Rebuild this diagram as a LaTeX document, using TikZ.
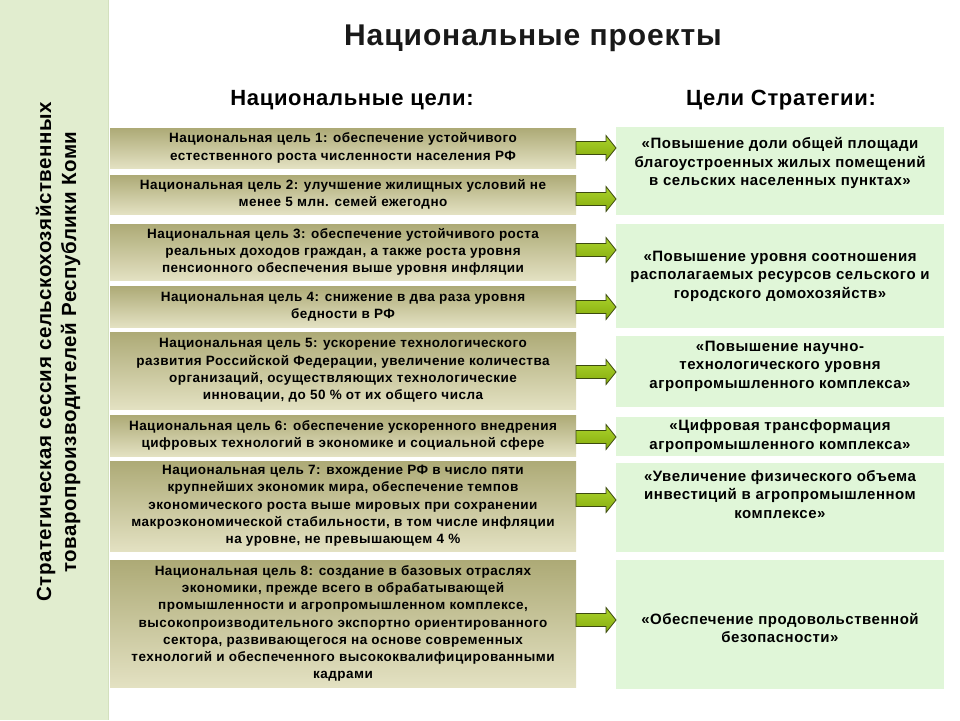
\documentclass[tikz,border=0pt]{standalone}
\usepackage{fontspec}
\setmainfont{Liberation Sans}
\definecolor{sidebar}{HTML}{E1EDCF}
\definecolor{sideedge}{HTML}{D3E0BE}
\definecolor{goalTop}{HTML}{ADAA76}
\definecolor{goalBot}{HTML}{E3E1C2}
\definecolor{stratFill}{HTML}{E0F6D8}
\definecolor{arrTop}{HTML}{AAD22C}
\definecolor{arrBot}{HTML}{86AC0C}
\definecolor{arrEdge}{HTML}{3C4A10}
\begin{document}
\begin{tikzpicture}[x=1pt,y=-1pt,
  goal/.style={shade, top color=goalTop, bottom color=goalBot, minimum width=466pt,
    align=center, inner sep=0pt, font=\bfseries\fontsize{13.5}{17.3}\selectfont\addfontfeature{LetterSpace=3.5}},
  strat/.style={fill=stratFill, minimum width=328pt, inner sep=0pt},
  strattext/.style={align=center, inner sep=0pt, font=\bfseries\fontsize{15}{18.5}\selectfont\addfontfeature{LetterSpace=3.5}},
  greenarrow/.style={top color=arrTop, bottom color=arrBot, draw=arrEdge, line width=0.8pt, line join=miter},
  header/.style={font=\bfseries\fontsize{22}{24}\selectfont\addfontfeature{LetterSpace=3}}
]
\useasboundingbox (0,0) rectangle (960,720);
\fill[white] (0,0) rectangle (960,720);
\fill[sidebar] (0,0) rectangle (109,720);
\draw[sideedge, line width=1pt] (108.5,0) -- (108.5,720);

\node[align=center, rotate=90, inner sep=0pt, font=\bfseries\fontsize{20.5}{25}\selectfont\addfontfeature{LetterSpace=2.5}] (side) at (58,352)
  {Стратегическая сессия сельскохозяйственных\\товаропроизводителей Республики Коми};

\node[font=\bfseries\fontsize{30}{32}\selectfont\addfontfeature{LetterSpace=3}, text=black!90] (title) at (533,38) {Национальные проекты};
\node[header] (h1) at (352,100) {Национальные цели:};
\node[header] (h2) at (781,100) {Цели Стратегии:};

% national goals
\node[goal, minimum height=40pt] (g1) at (343,148) {Национальная цель 1: обеспечение устойчивого\\естественного роста численности населения РФ};
\node[goal, minimum height=39pt] (g2) at (343,194.5) {Национальная цель 2: улучшение жилищных условий не\\менее 5 млн. семей ежегодно};
\node[goal, minimum height=56pt] (g3) at (343,252) {Национальная цель 3: обеспечение устойчивого роста\\реальных доходов граждан, а также роста уровня\\пенсионного обеспечения выше уровня инфляции};
\node[goal, minimum height=41pt] (g4) at (343,306.5) {Национальная цель 4: снижение в два раза уровня\\бедности в РФ};
\node[goal, minimum height=77pt] (g5) at (343,370.5) {Национальная цель 5: ускорение технологического\\развития Российской Федерации, увеличение количества\\организаций, осуществляющих технологические\\инновации, до 50 \% от их общего числа};
\node[goal, minimum height=41pt] (g6) at (343,435.5) {Национальная цель 6: обеспечение ускоренного внедрения\\цифровых технологий в экономике и социальной сфере};
\node[goal, minimum height=90pt] (g7) at (343,506) {Национальная цель 7: вхождение РФ в число пяти\\крупнейших экономик мира, обеспечение темпов\\экономического роста выше мировых при сохранении\\макроэкономической стабильности, в том числе инфляции\\на уровне, не превышающем 4 \%};
\node[goal, minimum height=127pt] (g8) at (343,623.5) {Национальная цель 8: создание в базовых отраслях\\экономики, прежде всего в обрабатывающей\\промышленности и агропромышленном комплексе,\\высокопроизводительного экспортно ориентированного\\сектора, развивающегося на основе современных\\технологий и обеспеченного высококвалифицированными\\кадрами};

% strategy goals
\node[strat, minimum height=88pt] (s1) at (780,171) {};
\node[strat, minimum height=104pt] (s2) at (780,276) {};
\node[strat, minimum height=71pt] (s3) at (780,371.5) {};
\node[strat, minimum height=39pt] (s4) at (780,436.5) {};
\node[strat, minimum height=89pt] (s5) at (780,507.5) {};
\node[strat, minimum height=129pt] (s6) at (780,624.5) {};
\node[strattext] (t1) at (780,163) {«Повышение доли общей площади\\благоустроенных жилых помещений\\в сельских населенных пунктах»};
\node[strattext] (t2) at (780,276) {«Повышение уровня соотношения\\располагаемых ресурсов сельского и\\городского домохозяйств»};
\node[strattext] (t3) at (780,366) {«Повышение научно-\\технологического уровня\\агропромышленного комплекса»};
\node[strattext] (t4) at (780,436) {«Цифровая трансформация\\агропромышленного комплекса»};
\node[strattext] (t5) at (780,494.5) {«Увеличение физического объема\\инвестиций в агропромышленном\\комплексе»};
\node[strattext] (t6) at (780,628) {«Обеспечение продовольственной\\безопасности»};

% block arrows
\foreach \yy in {148,199,250,307,372,437,500,620}{
  \path[greenarrow] (576,\yy-6.5) -- (606,\yy-6.5) -- (606,\yy-12.5) -- (616,\yy)
    -- (606,\yy+12.5) -- (606,\yy+6.5) -- (576,\yy+6.5) -- cycle;
}
\end{tikzpicture}
\end{document}
